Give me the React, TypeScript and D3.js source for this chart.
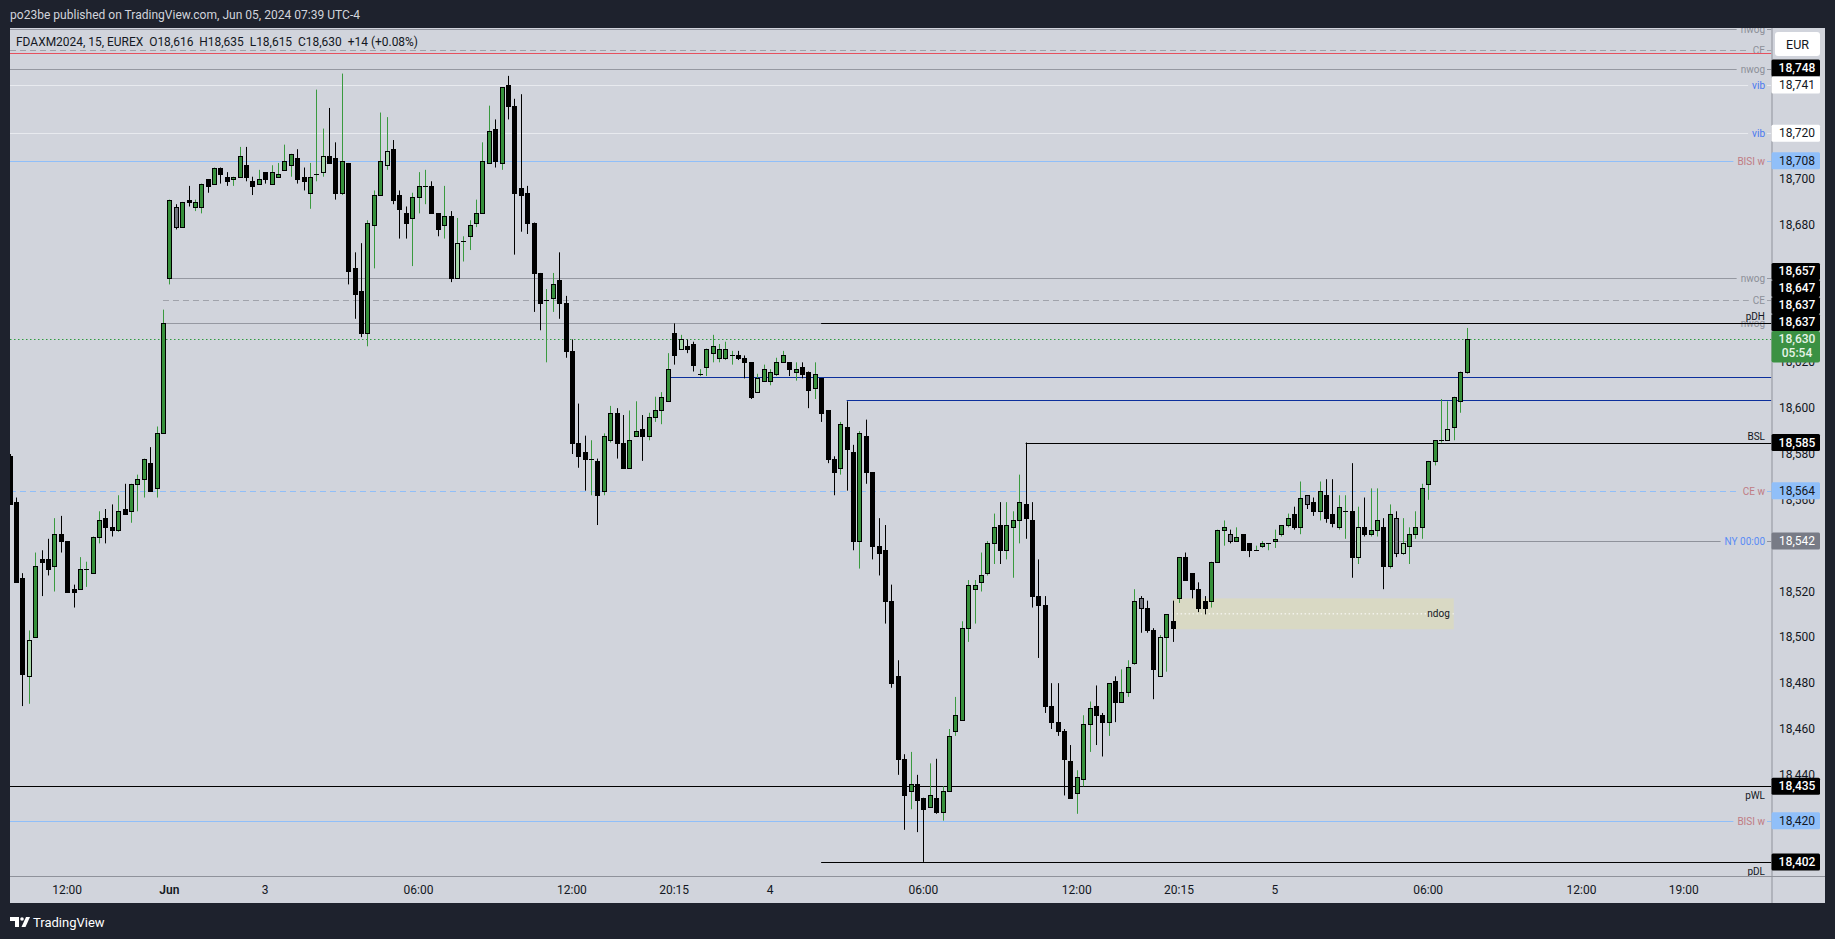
import React, { useMemo } from "react";
import * as d3 from "d3";

// ---------- DATA ----------
const FIRST_BAR = -1;
// 15-minute bars, index -1 .. 227
const opens = [
  18579, 18559, 18526, 18483, 18500, 18534, 18534, 18531, 18545, 18542, 18521, 18521, 18530, 18528, 18544, 18552, 18548, 18547, 18556, 18555, 18567, 18569, 18576, 18565, 18589,
  18657, 18688, 18679, 18691, 18688, 18688, 18700, 18698, 18705, 18701, 18700, 18701, 18706, 18699, 18698, 18703, 18698, 18701, 18704, 18706, 18709, 18701, 18694, 18702, 18703,
  18710, 18709, 18694, 18707, 18661, 18651, 18633, 18680, 18693, 18706, 18713, 18693, 18685, 18683, 18692, 18697, 18697, 18685, 18680, 18684, 18657, 18673, 18675, 18681, 18685,
  18707, 18722, 18707, 18741, 18732, 18696, 18694, 18681, 18659, 18647, 18648, 18656, 18646, 18625, 18585, 18581, 18578, 18577, 18564, 18586, 18598, 18585, 18574, 18588, 18591,
  18588, 18596, 18599, 18603, 18633, 18626, 18627, 18628, 18615, 18618, 18624, 18622, 18622, 18623, 18623, 18622, 18620, 18607, 18612, 18612, 18615, 18620, 18620, 18616, 18618,
  18616, 18609, 18613, 18599, 18578, 18574, 18592, 18581, 18542, 18588, 18572, 18540, 18538, 18516, 18483, 18447, 18433, 18436, 18430, 18426, 18430, 18424, 18433, 18459, 18464,
  18504, 18521, 18524, 18528, 18541, 18549, 18538, 18548, 18551, 18558, 18551, 18518, 18514, 18470, 18463, 18459, 18446, 18432, 18438, 18462, 18470, 18466, 18463, 18481, 18472,
  18476, 18489, 18517, 18513, 18503, 18483, 18500, 18507, 18517, 18535, 18528, 18521, 18516, 18516, 18533, 18547, 18545, 18542, 18545, 18541, 18538, 18540, 18541, 18542, 18545,
  18549, 18554, 18548, 18562, 18559, 18555, 18562, 18554, 18548, 18555, 18555, 18535, 18548, 18545, 18547, 18548, 18531, 18552, 18537, 18540, 18545, 18548, 18567, 18577, 18586,
  18586, 18592, 18603, 18616,
];
const highs = [
  18580, 18561, 18528, 18503, 18537, 18538, 18543, 18552, 18553, 18542, 18523, 18535, 18533, 18544, 18555, 18556, 18558, 18562, 18567, 18567, 18571, 18578, 18583, 18592, 18643,
  18691, 18689, 18690, 18697, 18691, 18698, 18700, 18705, 18705, 18703, 18701, 18714, 18714, 18701, 18704, 18703, 18706, 18707, 18715, 18711, 18713, 18705, 18707, 18739, 18722,
  18731, 18716, 18746, 18707, 18668, 18672, 18682, 18695, 18729, 18727, 18717, 18695, 18688, 18694, 18703, 18704, 18699, 18685, 18697, 18686, 18683, 18675, 18682, 18691, 18716,
  18732, 18726, 18740, 18745, 18735, 18737, 18697, 18681, 18659, 18652, 18659, 18668, 18649, 18630, 18602, 18588, 18586, 18578, 18589, 18601, 18600, 18597, 18599, 18603, 18597,
  18598, 18605, 18607, 18624, 18637, 18632, 18630, 18629, 18617, 18626, 18632, 18628, 18629, 18625, 18625, 18623, 18620, 18615, 18619, 18617, 18622, 18625, 18620, 18620, 18620,
  18616, 18620, 18613, 18599, 18579, 18594, 18603, 18584, 18590, 18595, 18572, 18552, 18549, 18523, 18490, 18449, 18450, 18440, 18430, 18445, 18447, 18435, 18460, 18474, 18507,
  18525, 18525, 18537, 18542, 18554, 18559, 18559, 18555, 18571, 18585, 18559, 18534, 18518, 18480, 18480, 18460, 18453, 18442, 18466, 18472, 18479, 18467, 18480, 18483, 18486,
  18490, 18521, 18518, 18516, 18504, 18501, 18510, 18516, 18535, 18537, 18528, 18524, 18518, 18533, 18547, 18551, 18547, 18548, 18545, 18541, 18540, 18542, 18541, 18547, 18549,
  18554, 18557, 18568, 18562, 18561, 18568, 18569, 18569, 18562, 18562, 18576, 18557, 18561, 18565, 18565, 18552, 18558, 18555, 18552, 18548, 18555, 18567, 18577, 18586, 18604,
  18603, 18605, 18616, 18635,
];
const lows = [
  18558, 18524, 18470, 18471, 18500, 18518, 18527, 18520, 18537, 18520, 18513, 18521, 18522, 18528, 18541, 18541, 18544, 18546, 18554, 18550, 18555, 18561, 18564, 18561, 18589,
  18654, 18678, 18679, 18688, 18686, 18685, 18694, 18698, 18698, 18697, 18697, 18701, 18699, 18693, 18698, 18698, 18698, 18701, 18704, 18701, 18698, 18695, 18687, 18699, 18701,
  18707, 18691, 18693, 18654, 18639, 18631, 18627, 18661, 18693, 18704, 18689, 18674, 18674, 18662, 18685, 18689, 18685, 18675, 18674, 18655, 18657, 18664, 18669, 18679, 18685,
  18707, 18705, 18704, 18726, 18667, 18677, 18676, 18642, 18634, 18620, 18642, 18639, 18622, 18580, 18574, 18564, 18562, 18549, 18562, 18585, 18578, 18574, 18574, 18588, 18577,
  18586, 18594, 18593, 18603, 18619, 18626, 18624, 18616, 18614, 18614, 18620, 18620, 18621, 18619, 18621, 18613, 18604, 18607, 18612, 18610, 18614, 18620, 18614, 18612, 18613,
  18600, 18604, 18594, 18576, 18562, 18571, 18564, 18538, 18530, 18567, 18534, 18527, 18506, 18478, 18440, 18416, 18425, 18415, 18402, 18426, 18423, 18420, 18433, 18457, 18464,
  18498, 18506, 18520, 18527, 18532, 18532, 18534, 18526, 18541, 18543, 18513, 18491, 18467, 18460, 18457, 18431, 18430, 18423, 18435, 18450, 18453, 18448, 18457, 18463, 18472,
  18474, 18488, 18502, 18502, 18473, 18483, 18485, 18498, 18515, 18525, 18517, 18511, 18510, 18513, 18533, 18540, 18541, 18542, 18538, 18535, 18538, 18539, 18538, 18539, 18544,
  18548, 18547, 18545, 18556, 18553, 18551, 18550, 18548, 18547, 18543, 18526, 18532, 18544, 18544, 18544, 18521, 18530, 18535, 18536, 18532, 18543, 18543, 18560, 18575, 18585,
  18586, 18586, 18598, 18615,
];
const closes = [
  18558, 18524, 18484, 18499, 18531, 18533, 18530, 18545, 18542, 18520, 18520, 18530, 18530, 18544, 18551, 18548, 18547, 18555, 18554, 18567, 18569, 18578, 18564, 18589, 18637,
  18691, 18679, 18690, 18690, 18690, 18698, 18697, 18705, 18702, 18699, 18701, 18710, 18701, 18697, 18700, 18700, 18703, 18702, 18708, 18711, 18700, 18699, 18701, 18702, 18710,
  18707, 18694, 18708, 18660, 18650, 18633, 18681, 18693, 18708, 18712, 18691, 18687, 18681, 18692, 18697, 18697, 18685, 18678, 18684, 18657, 18672, 18673, 18680, 18685, 18708,
  18721, 18708, 18740, 18732, 18694, 18693, 18681, 18659, 18646, 18647, 18654, 18646, 18625, 18585, 18579, 18578, 18578, 18562, 18588, 18598, 18585, 18574, 18586, 18590, 18588,
  18596, 18599, 18605, 18617, 18623, 18630, 18626, 18619, 18615, 18626, 18627, 18626, 18626, 18623, 18622, 18620, 18605, 18613, 18617, 18616, 18620, 18623, 18617, 18617, 18615,
  18608, 18615, 18598, 18578, 18572, 18593, 18582, 18542, 18589, 18572, 18540, 18537, 18516, 18480, 18447, 18431, 18436, 18429, 18425, 18431, 18424, 18433, 18457, 18466, 18504,
  18523, 18523, 18527, 18541, 18548, 18538, 18549, 18551, 18559, 18552, 18518, 18514, 18470, 18463, 18459, 18447, 18430, 18439, 18462, 18469, 18466, 18463, 18480, 18472, 18476,
  18487, 18516, 18513, 18503, 18486, 18500, 18510, 18504, 18535, 18525, 18521, 18513, 18513, 18533, 18547, 18548, 18542, 18544, 18538, 18538, 18538, 18541, 18541, 18543, 18549,
  18552, 18548, 18561, 18558, 18555, 18564, 18552, 18550, 18557, 18555, 18535, 18548, 18545, 18547, 18551, 18531, 18554, 18537, 18541, 18545, 18548, 18565, 18577, 18586, 18586,
  18591, 18605, 18616, 18630,
];
const lightGreenBars = [2, 48, 58, 69, 104, 116, 179, 210, 217, 224];
const greyBars = [25, 176, 190, 202, 216];

const timeTickBars = [8, 24, 39, 63, 87, 103, 118, 142, 166, 182, 197, 221, 245, 261];
const timeTickLabels = ["12:00", "Jun", "3", "06:00", "12:00", "20:15", "4", "06:00", "12:00", "20:15", "5", "06:00", "12:00", "19:00"];
const priceTickValues = d3.range(18420, 18761, 20);

// horizontal levels drawn on the chart
const levelNames = ["nwog", "CE", "", "nwog", "vib", "vib", "BISI w", "nwog", "CE", "nwog", "pDH", "", "", "BSL", "CE w", "NY 00:00", "pWL", "BISI w", "pDL"];
const levelPrices = [18765.5, 18756.3, 18754.9, 18748, 18741, 18720, 18708, 18657, 18647, 18637, 18637, 18613.5, 18603.5, 18585, 18564, 18542, 18435, 18420, 18402];
const levelStartBars = [null, null, null, null, null, null, null, 24, 23, 23, 126, 102, 130, 158, null, 197, null, null, 126];
const levelKinds = ["gap", "ceGrey", "red", "gap", "vib", "vib", "bisi", "gap", "ceGrey", "gap", "black", "blue", "blue", "black", "ceBlue", "ny", "black", "bisi", "black"];
const levelTagPlace = ["mid", "mid", "", "mid", "mid", "mid", "mid", "mid", "mid", "mid", "above", "", "", "above", "mid", "mid", "below", "mid", "below"];
const levelHasAxisLabel = [false, false, false, true, true, true, true, true, true, true, true, false, false, true, true, true, true, true, true];

const currentPrice = 18630;
const countdownText = "05:54";
const ndogTop = 18517;
const ndogBottom = 18503.5;
const ndogStartBar = 181;
const ndogEndBar = 225;

const publishText = "po23be published on TradingView.com, Jun 05, 2024 07:39 UTC-4";
const legendText = "FDAXM2024, 15, EUREX  O18,616  H18,635  L18,615  C18,630  +14 (+0.08%)";

// ---------- STYLES ----------
const BG = "#1e222d";
const PANE = "#d1d4dc";
const BULL = "#36903b";
const BULL_WICK = "#3a9a3f";
const LIGHT = "#a6d7a8";
const GREYC = "#6e717b";
const TEXT = "#131722";
const FONT = "Roboto, 'Noto Sans', sans-serif";

const lineStyle: Record<string, { stroke: string; dash?: string; tag: string; box: string }> = {
  gap: { stroke: "#9598a1", tag: "#8c8f98", box: "black" },
  ceGrey: { stroke: "#a0a3ab", dash: "6 4", tag: "#8c8f98", box: "black" },
  red: { stroke: "#e6515f", tag: "#e6515f", box: "black" },
  vib: { stroke: "#e8eaef", tag: "#4a78f0", box: "white" },
  bisi: { stroke: "#90bff9", tag: "#c07b84", box: "blue" },
  black: { stroke: "#000000", tag: "#131722", box: "black" },
  blue: { stroke: "#0c2f9c", tag: "#0c2f9c", box: "black" },
  ceBlue: { stroke: "#90bff9", dash: "6 4", tag: "#c07b84", box: "blue" },
  ny: { stroke: "#8f929b", tag: "#5a8cf5", box: "grey" },
};
const boxFill: Record<string, string> = { black: "#000000", white: "#ffffff", blue: "#90bff9", grey: "#787b86", green: "#3b9143" };
const boxText: Record<string, string> = { black: "#ffffff", white: TEXT, blue: TEXT, grey: "#ffffff", green: "#e6f4e7" };

export default function App() {
  const W = 1835, H = 939;
  const PL = 10, PT = 28, PR = 1771.5, PB = 876, AR = 1825, AB = 903;

  const x = d3.scaleLinear().domain([0, 227]).range([16, 16 + 6.39 * 227]);
  const y = d3.scaleLinear().domain([18400, 18700]).range([866.5, 179]);
  const fmt = d3.format(",.0f");

  const measure = useMemo(() => {
    const ctx = document.createElement("canvas").getContext("2d");
    return (t: string, font: string) => {
      if (!ctx) return t.length * 5.5;
      ctx.font = font;
      return ctx.measureText(t).width;
    };
  }, []);

  const bars = opens.map((o, k) => ({ i: k + FIRST_BAR, o, h: highs[k], l: lows[k], c: closes[k] }));

  // axis value labels, stacked around the fixed current-price label
  type Lab = { price: number; box: string; pos: number; current?: boolean };
  const labs: Lab[] = [];
  levelPrices.forEach((p, k) => {
    if (levelHasAxisLabel[k]) labs.push({ price: p, box: lineStyle[levelKinds[k]].box, pos: y(p) });
  });
  labs.push({ price: currentPrice, box: "green", pos: y(currentPrice), current: true });
  labs.sort((a, b) => a.pos - b.pos || (a.current ? 1 : 0) - (b.current ? 1 : 0));
  const LH = 17;
  const f = labs.findIndex((l) => l.current);
  const curTop = labs[f].pos - 8.5;
  const curBot = labs[f].pos + 23;
  for (let k = f - 1; k >= 0; k--) {
    const limit = k === f - 1 ? curTop : labs[k + 1].pos - LH / 2;
    labs[k].pos = Math.min(labs[k].pos, limit - LH / 2);
  }
  for (let k = f + 1; k < labs.length; k++) {
    const prev = k === f + 1 ? curBot : labs[k - 1].pos + LH / 2;
    labs[k].pos = Math.max(labs[k].pos, prev + LH / 2);
  }
  const boxRanges: [number, number][] = labs.map((l) => (l.current ? [l.pos - 8.5, l.pos + 23] : [l.pos - LH / 2, l.pos + LH / 2]));
  boxRanges.push([32, 56]); // EUR box
  const covered = (v: number) => boxRanges.some((r) => v >= r[0] && v <= r[1]);
  const visibleTicks = priceTickValues.filter((v) => !(covered(y(v) - 3) && covered(y(v) + 3)));

  const tagFont = `10px ${FONT}`;
  const TAG_R = 1765;

  return (
    <div style={{ position: "absolute", left: 0, top: 0, width: W, height: H, overflow: "hidden" }}>
      <svg width={W} height={H} style={{ display: "block" }} fontFamily={FONT}>
        <defs>
          <clipPath id="plot">
            <rect x={PL} y={PT} width={PR - PL} height={PB - PT} />
          </clipPath>
        </defs>
        <rect x={0} y={0} width={W} height={H} fill={BG} />
        {/* publisher line */}
        <text x={10} y={15} dominantBaseline="central" fontSize={12} fill="#d1d4dc" textLength={350} lengthAdjust="spacingAndGlyphs">
          {publishText}
        </text>
        {/* chart pane */}
        <rect x={PL} y={PT} width={AR - PL} height={AB - PT} fill={PANE} />

        <g clipPath="url(#plot)">
          {/* ndog box */}
          <rect x={x(ndogStartBar)} y={y(ndogTop)} width={x(ndogEndBar) - x(ndogStartBar)} height={y(ndogBottom) - y(ndogTop)} fill="#d9d9c4" />
          <line x1={x(ndogStartBar)} x2={x(ndogEndBar)} y1={y((ndogTop + ndogBottom) / 2)} y2={y((ndogTop + ndogBottom) / 2)} stroke="#ffffff" strokeDasharray="1.5 2.5" />
          <text x={x(ndogEndBar) - 4} y={y((ndogTop + ndogBottom) / 2)} dominantBaseline="central" textAnchor="end" fontSize={10} fill={TEXT}>
            ndog
          </text>

          {/* current price dotted line */}
          <line x1={PL} x2={PR} y1={Math.round(y(currentPrice)) + 0.5} y2={Math.round(y(currentPrice)) + 0.5} stroke="#2f9a40" strokeDasharray="1.5 2.5" />

          {/* levels */}
          {levelPrices.map((p, k) => {
            const st = lineStyle[levelKinds[k]];
            const yy = Math.round(y(p)) + 0.5;
            const x0 = levelStartBars[k] == null ? PL : x(levelStartBars[k] as number);
            const name = levelNames[k];
            const place = levelTagPlace[k];
            const segs: [number, number][] = [];
            if (place === "mid" && name) {
              const w = measure(name, tagFont);
              segs.push([x0, TAG_R - w - 4]);
              segs.push([TAG_R + 2, PR]);
            } else segs.push([x0, PR]);
            return (
              <g key={"lv" + k}>
                {segs.map((s, j) => (
                  <line key={j} x1={s[0]} x2={s[1]} y1={yy} y2={yy} stroke={st.stroke} strokeWidth={1} strokeDasharray={st.dash} />
                ))}
                {name && (
                  <text
                    x={TAG_R}
                    y={place === "mid" ? yy : place === "above" ? yy - 4 : yy + 12}
                    dominantBaseline={place === "mid" ? "central" : "auto"}
                    textAnchor="end"
                    fontSize={10}
                    fill={st.tag}
                  >
                    {name}
                  </text>
                )}
              </g>
            );
          })}

          {/* candles */}
          {bars.map((b) => {
            const cx = Math.round(x(b.i)) + 0.5;
            const isLG = lightGreenBars.includes(b.i);
            const isGrey = greyBars.includes(b.i);
            const doji = b.o === b.c;
            const up = b.c > b.o;
            const wick = isGrey ? "#000" : doji || up || isLG ? BULL_WICK : "#000";
            const fill = isLG ? LIGHT : isGrey ? GREYC : up ? BULL : "#000";
            const top = Math.round(y(Math.max(b.o, b.c)));
            const bot = Math.round(y(Math.min(b.o, b.c)));
            return (
              <g key={"c" + b.i}>
                <line x1={cx} x2={cx} y1={y(b.h)} y2={y(b.l)} stroke={wick} strokeWidth={1} />
                {doji ? (
                  <line x1={cx - 2.5} x2={cx + 2.5} y1={top + 0.5} y2={top + 0.5} stroke="#000" strokeWidth={1} />
                ) : (
                  <rect x={cx - 2} y={top + 0.5} width={4} height={Math.max(1, bot - top)} fill={fill} stroke="#000" strokeWidth={1} />
                )}
              </g>
            );
          })}
        </g>

        {/* legend */}
        <text x={16} y={42} dominantBaseline="central" fontSize={12} fill={TEXT} style={{ whiteSpace: "pre" }} textLength={402} lengthAdjust="spacingAndGlyphs">
          {legendText}
        </text>

        {/* separators */}
        <line x1={PR + 0.5} x2={PR + 0.5} y1={PT} y2={AB} stroke="#8f929b" />
        <line x1={PL} x2={AR} y1={PB + 0.5} y2={PB + 0.5} stroke="#8f929b" />

        {/* price axis ticks */}
        {visibleTicks.map((v) => (
          <text key={"pt" + v} x={1797} y={y(v)} dominantBaseline="central" textAnchor="middle" fontSize={12} fill={TEXT}>
            {fmt(v)}
          </text>
        ))}

        {/* EUR box */}
        <rect x={1775} y={32} width={45} height={24} rx={3} fill="#ffffff" />
        <text x={1797.5} y={44} dominantBaseline="central" textAnchor="middle" fontSize={12.5} fill={TEXT}>
          EUR
        </text>

        {/* axis value labels */}
        {labs.map((l, k) => {
          if (l.current) {
            return (
              <g key={"lab" + k}>
                <rect x={1771.5} y={l.pos - 8.5} width={48.5} height={31.5} rx={2} fill={boxFill.green} />
                <text x={1797} y={l.pos} dominantBaseline="central" textAnchor="middle" fontSize={12} fill={boxText.green} fontWeight={500}>
                  {fmt(l.price)}
                </text>
                <text x={1797} y={l.pos + 14} dominantBaseline="central" textAnchor="middle" fontSize={12} fill={boxText.green} fontWeight={500}>
                  {countdownText}
                </text>
              </g>
            );
          }
          return (
            <g key={"lab" + k}>
              <rect x={1771.5} y={l.pos - LH / 2} width={48.5} height={LH} rx={1.5} fill={boxFill[l.box]} />
              <text x={1797} y={l.pos} dominantBaseline="central" textAnchor="middle" fontSize={12} fill={boxText[l.box]} fontWeight={l.box === "black" ? 500 : 400}>
                {fmt(l.price)}
              </text>
            </g>
          );
        })}

        {/* time axis */}
        {timeTickBars.map((t, k) => (
          <text key={"tt" + k} x={x(t)} y={890} dominantBaseline="central" textAnchor="middle" fontSize={12} fill={TEXT} fontWeight={timeTickLabels[k] === "Jun" ? 600 : 400}>
            {timeTickLabels[k]}
          </text>
        ))}

        {/* dark frame over edges */}
        <rect x={AR} y={0} width={W - AR} height={H} fill={BG} />
        <rect x={0} y={AB} width={W} height={H - AB} fill={BG} />
        <rect x={0} y={0} width={PL} height={H} fill={BG} />

        {/* TradingView logo */}
        <g fill="#ffffff">
          <path d="M10 917 h9 v10 h-4 v-6 h-5 z" />
          <circle cx={22} cy={919} r={1.8} />
          <path d="M26 917 h4 l-4.5 10 h-4 z" />
          <text x={33} y={922} dominantBaseline="central" fontSize={13} fill="#ffffff">
            TradingView
          </text>
        </g>
      </svg>
    </div>
  );
}
